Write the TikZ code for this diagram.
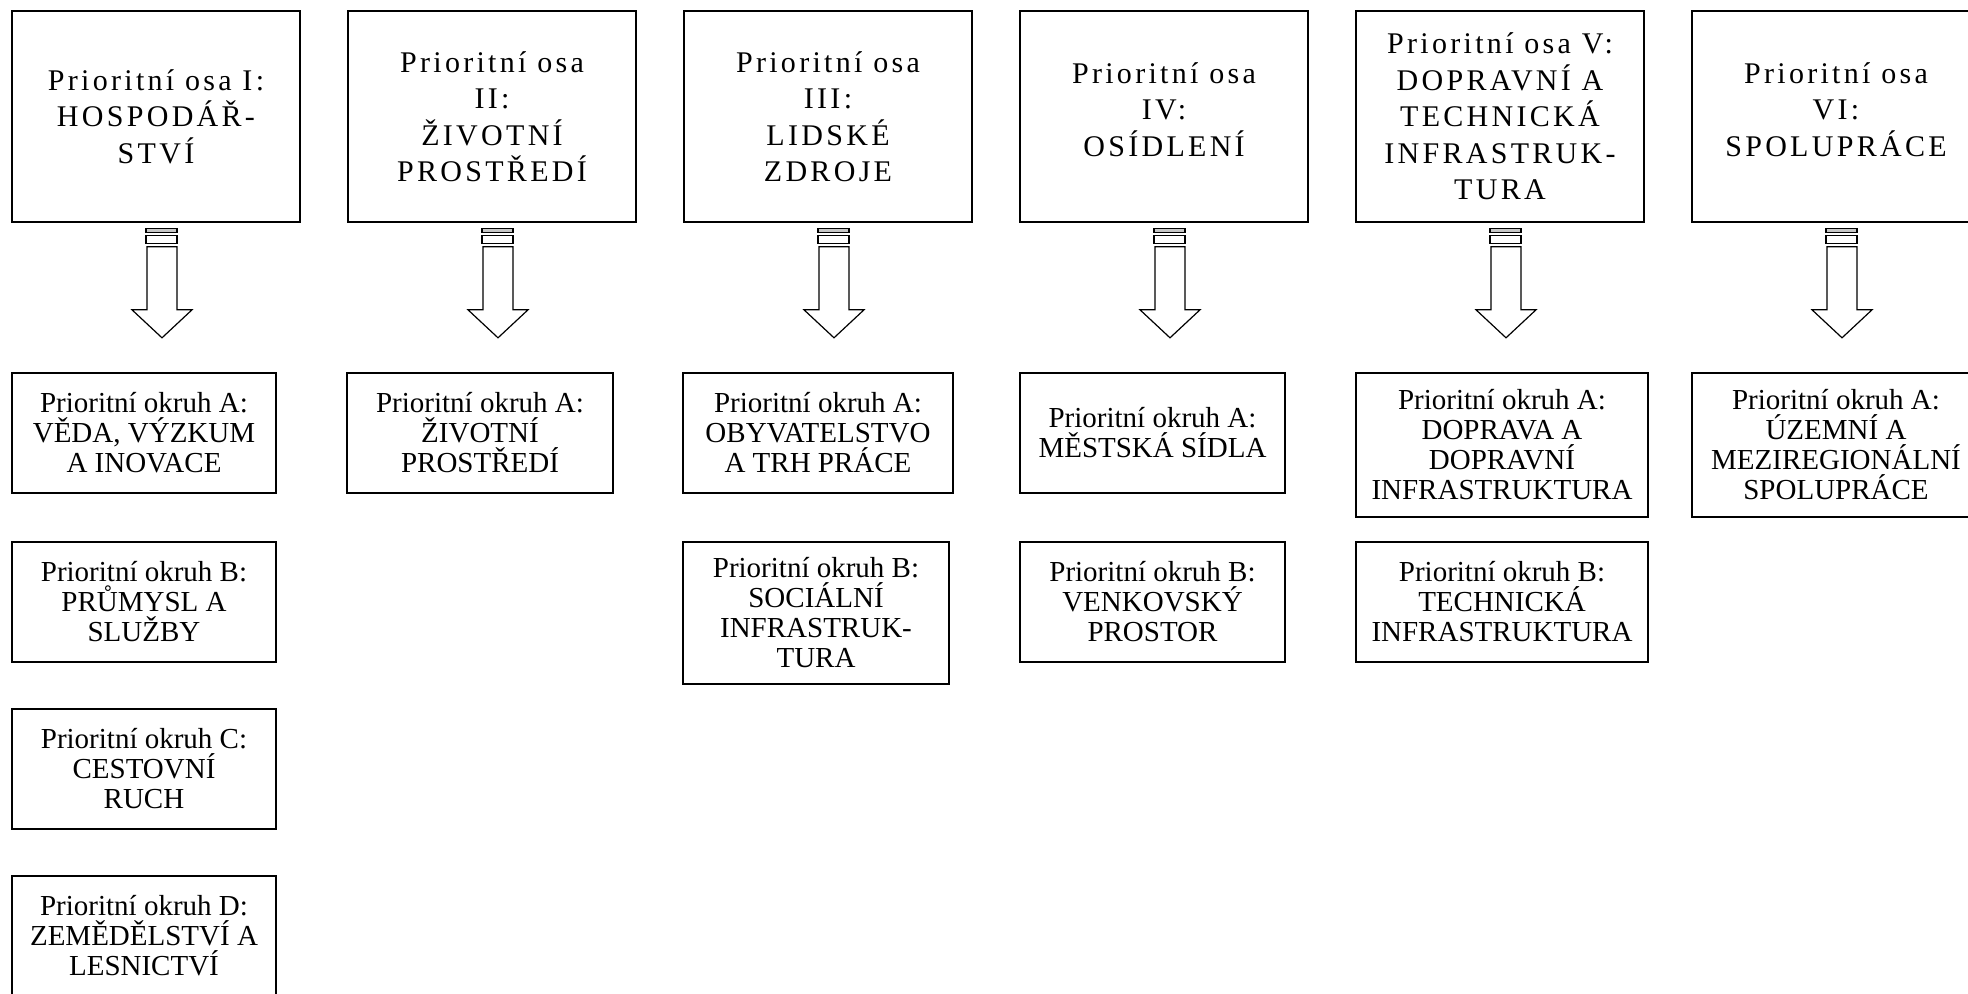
\documentclass[tikz,border=0pt]{standalone}
\usepackage{fontspec}
\setmainfont{Liberation Serif}
\newfontfamily\osafont[LetterSpace=11]{Liberation Serif}
\begin{document}
\begin{tikzpicture}[x=0.5pt,y=-0.5pt,
  osa/.style={draw, line width=0.8pt, minimum width=144pt, minimum height=105.5pt, inner sep=0pt, align=center, font=\osafont\fontsize{15}{18.25}\selectfont},
  okruh/.style={draw, line width=0.8pt, inner sep=0pt, align=center, font=\fontsize{14.5}{15}\selectfont},
  arrowline/.style={draw, line width=0.6pt, line join=miter},
  blockarrow/.pic={
    \draw[arrowline, fill=gray!45] (-16,6) rectangle (15,10);
    \draw[arrowline] (-16,13) rectangle (15,21);
    \draw[arrowline] (-15,24) -- (-15,87) -- (-30,87) -- (0,115) -- (30,87) -- (15,87) -- (15,24) -- cycle;
  }]
\useasboundingbox (0,0) rectangle (1968,993);
\clip (0,0) rectangle (1968,993);

% top boxes
\node[osa] (t1) at (156,116.5) {Prioritní osa I:\\HOSPODÁŘ-\\STVÍ};
\node[osa] (t2) at (492,116.5) {Prioritní osa\\II:\\ŽIVOTNÍ\\PROSTŘEDÍ};
\node[osa] (t3) at (828,116.5) {Prioritní osa\\III:\\LIDSKÉ\\ZDROJE};
\node[osa] (t4) at (1164,116.5) {Prioritní osa\\IV:\\OSÍDLENÍ\\[-11.25pt]\mbox{}};
\node[osa] (t5) at (1500,116.5) {Prioritní osa V:\\DOPRAVNÍ A\\TECHNICKÁ\\INFRASTRUK-\\TURA};
\node[osa] (t6) at (1836,116.5) {Prioritní osa\\VI:\\SPOLUPRÁCE\\[-11.25pt]\mbox{}};

% arrows
\foreach \t in {t1,t2,t3,t4,t5,t6}
  \pic at ([xshift=3pt]\t.south) {blockarrow};

% bottom boxes
\node[okruh, minimum width=132pt, minimum height=60pt] (a1) at (144,433) {Prioritní okruh A:\\VĚDA, VÝZKUM\\A INOVACE};
\node[okruh, minimum width=132pt, minimum height=60pt] (b1) at (144,602) {Prioritní okruh B:\\PRŮMYSL A\\SLUŽBY};
\node[okruh, minimum width=132pt, minimum height=60pt] (c1) at (144,769) {Prioritní okruh C:\\CESTOVNÍ\\RUCH};
\node[okruh, minimum width=132pt, minimum height=60pt] (d1) at (144,936) {Prioritní okruh D:\\ZEMĚDĚLSTVÍ A\\LESNICTVÍ};

\node[okruh, minimum width=133pt, minimum height=60pt] (a2) at (480,433) {Prioritní okruh A:\\ŽIVOTNÍ\\PROSTŘEDÍ};

\node[okruh, minimum width=135pt, minimum height=60pt] (a3) at (818,433) {Prioritní okruh A:\\OBYVATELSTVO\\A TRH PRÁCE};
\node[okruh, minimum width=133pt, minimum height=71pt] (b3) at (816,613) {Prioritní okruh B:\\SOCIÁLNÍ\\INFRASTRUK-\\TURA};

\node[okruh, minimum width=132.5pt, minimum height=60pt] (a4) at (1152.5,433) {Prioritní okruh A:\\MĚSTSKÁ SÍDLA};
\node[okruh, minimum width=132.5pt, minimum height=60pt] (b4) at (1152.5,602) {Prioritní okruh B:\\VENKOVSKÝ\\PROSTOR};

\node[okruh, minimum width=146pt, minimum height=72pt] (a5) at (1502,445) {Prioritní okruh A:\\DOPRAVA A\\DOPRAVNÍ\\INFRASTRUKTURA};
\node[okruh, minimum width=146pt, minimum height=60pt] (b5) at (1502,602) {Prioritní okruh B:\\TECHNICKÁ\\INFRASTRUKTURA};

\node[okruh, minimum width=144pt, minimum height=72pt] (a6) at (1836,445) {Prioritní okruh A:\\ÚZEMNÍ A\\MEZIREGIONÁLNÍ\\SPOLUPRÁCE};
\end{tikzpicture}
\end{document}
